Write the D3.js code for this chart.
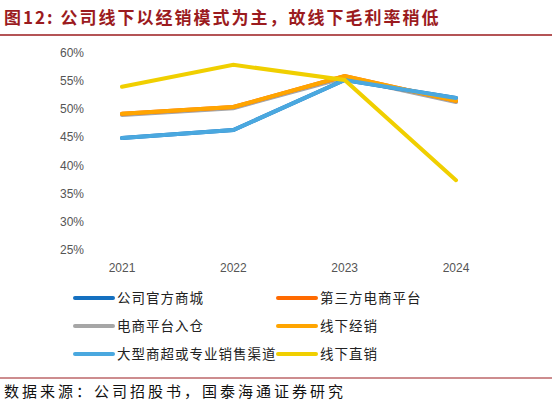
<!DOCTYPE html>
<html><head><meta charset="utf-8">
<script src="https://cdn.jsdelivr.net/npm/d3@7"></script>
<style>body{margin:0;background:#fff}</style></head>
<body><svg id="c" width="552" height="406"></svg>
<script>
const years = ['2021', '2022', '2023', '2024'];
const seriesNames = ['公司官方商城', '第三方电商平台', '电商平台入仓', '线下经销', '大型商超或专业销售渠道', '线下直销'];
const seriesColors = ['#1570C0', '#FF6A00', '#A6A6A6', '#FFA500', '#4AA8DF', '#F0CF00'];
// hidden series overlap visible ones
const official = [44.9, 46.3, 55.2, 52.0];
const thirdParty = [49.2, 50.4, 55.9, 51.5];
const warehouse = [49.0, 50.2, 55.6, 51.3];
const offlineDist = [49.2, 50.4, 55.9, 51.5];
const supermarket = [44.9, 46.3, 55.2, 52.0];
const offlineDirect = [54.0, 57.9, 55.2, 37.4];
const yTicks = [25, 30, 35, 40, 45, 50, 55, 60];

const svg = d3.select('#c');
const font = '"Noto Sans CJK SC", sans-serif';

svg.append('text').attr('x', 4).attr('y', 24).attr('font-family', font)
  .attr('font-weight', 'bold').attr('font-size', 17).attr('fill', '#9B1B1E')
  .attr('letter-spacing', 2)
  .text('图12:  公司线下以经销模式为主，故线下毛利率稍低');
svg.append('line').attr('x1', 0).attr('x2', 552).attr('y1', 35).attr('y2', 35)
  .attr('stroke', '#9B1B1E').attr('stroke-width', 1.5);

const x = d3.scalePoint().domain(years).range([122, 456]);
const y = d3.scaleLinear().domain([25, 60]).range([250, 53]);

svg.append('g').selectAll('text').data(yTicks).join('text')
  .attr('x', 84).attr('y', d => y(d) + 4).attr('text-anchor', 'end')
  .attr('font-family', 'Liberation Sans, Arial').attr('font-size', 12).attr('fill', '#555')
  .text(d => d + '%');
svg.append('g').selectAll('text').data(years).join('text')
  .attr('x', d => x(d)).attr('y', 272).attr('text-anchor', 'middle')
  .attr('font-family', 'Liberation Sans, Arial').attr('font-size', 12).attr('fill', '#555')
  .text(d => d);

const all = [official, thirdParty, warehouse, offlineDist, supermarket, offlineDirect];
const line = d3.line().x((d, i) => x(years[i])).y(d => y(d));
const order = [2, 0, 1, 3, 4, 5];
order.forEach(k => {
  svg.append('path').attr('d', line(all[k])).attr('fill', 'none')
    .attr('stroke', seriesColors[k]).attr('stroke-width', 4).attr('stroke-linecap', 'round');
});

const lg = svg.append('g');
seriesNames.forEach((n, i) => {
  const col = i % 2, row = Math.floor(i / 2);
  const lx = col ? 278 : 75, ly = 298 + row * 28;
  lg.append('line').attr('x1', lx).attr('x2', lx + 38).attr('y1', ly).attr('y2', ly)
    .attr('stroke', seriesColors[i]).attr('stroke-width', 4).attr('stroke-linecap', 'round');
  lg.append('text').attr('x', lx + 42).attr('y', ly + 5).attr('font-family', font)
    .attr('font-size', 13.5).attr('letter-spacing', 1).attr('fill', '#222').text(n);
});

svg.append('line').attr('x1', 0).attr('x2', 552).attr('y1', 378).attr('y2', 378)
  .attr('stroke', '#9B1B1E').attr('stroke-width', 1);
svg.append('text').attr('x', 4).attr('y', 397).attr('font-family', font)
  .attr('font-size', 15).attr('letter-spacing', 3).attr('fill', '#111').text('数据来源：公司招股书，国泰海通证券研究');
</script></body></html>
